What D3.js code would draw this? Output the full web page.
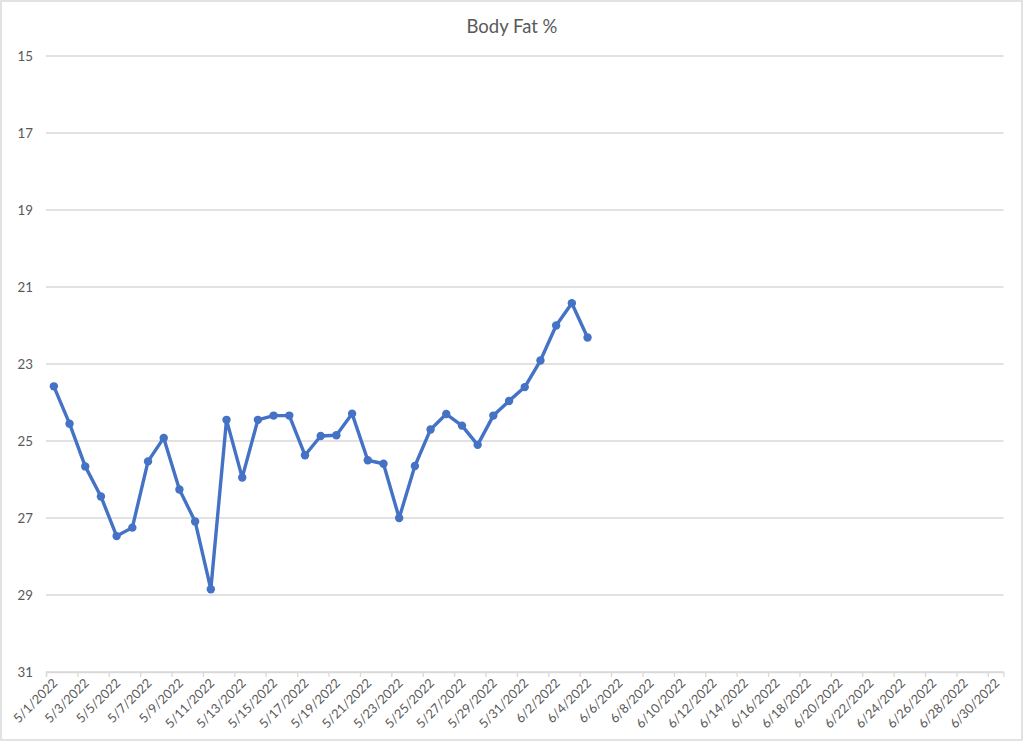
<!DOCTYPE html>
<html>
<head>
<meta charset="utf-8">
<script src="https://cdn.jsdelivr.net/npm/d3@7"></script>
<style>
  body { margin: 0; background: #fff; }
  svg { display: block; font-family: Lato, Carlito, "Liberation Sans", sans-serif; }
</style>
</head>
<body>
<svg class="chart" width="1024" height="743"></svg>
<script>
// donnees
const startDay = "2022-05-01";
const endDay = "2022-07-01";
const bodyFat = [
  23.58, 24.55, 25.66, 26.44, 27.47, 27.25, 25.53, 24.92, 26.26, 27.09,
  28.85, 24.45, 25.95, 24.45, 24.34, 24.34, 25.37, 24.87, 24.85, 24.29,
  25.50, 25.59, 27.00, 25.65, 24.70, 24.30, 24.60, 25.10, 24.34, 23.96,
  23.60, 22.91, 22.00, 21.42, 22.31
];
const yTicks = [15, 17, 19, 21, 23, 25, 27, 29, 31];
const title = "Body Fat %";

const parse = d3.timeParse("%Y-%m-%d");
const fmt = d3.timeFormat("%-m/%-d/%Y");
const t0 = parse(startDay), t1 = parse(endDay);

const svg = d3.select(".chart");

// cadre gris autour du graphique
svg.append("rect")
  .attr("x", 1).attr("y", 1)
  .attr("width", 1021).attr("height", 739)
  .attr("fill", "#fff")
  .attr("stroke", "#d9d9d9")
  .attr("stroke-width", 1.5);

const x = d3.scaleTime().domain([t0, t1]).range([46, 1003.5]);
const y = d3.scaleLinear().domain([15, 31]).range([56, 672]);

const halfDay = (x(d3.timeDay.offset(t0, 1)) - x(t0)) / 2;

// titre
svg.append("text")
  .text(title)
  .attr("x", 512)
  .attr("y", 33)
  .attr("text-anchor", "middle")
  .attr("fill", "#595959")
  .attr("font-size", 18.5);

// lignes de grille
svg.append("g").selectAll("line")
  .data(yTicks)
  .enter()
  .append("line")
  .attr("x1", x.range()[0])
  .attr("x2", x.range()[1])
  .attr("y1", d => y(d))
  .attr("y2", d => y(d))
  .attr("stroke", "#d9d9d9")
  .attr("stroke-width", 1.3);

// etiquettes de l'axe y
svg.append("g").selectAll("text")
  .data(yTicks)
  .enter()
  .append("text")
  .text(d => d)
  .attr("x", 33)
  .attr("y", d => y(d))
  .attr("dy", "0.35em")
  .attr("text-anchor", "end")
  .attr("fill", "#595959")
  .attr("font-size", 13.3);

// axe x : un trait tous les deux jours
const xTicks = d3.timeDay.range(t0, t1, 2);
const xAxis = d3.axisBottom(x)
  .tickValues(xTicks)
  .tickSize(5)
  .tickFormat(fmt);

const gx = svg.append("g")
  .attr("transform", `translate(0,${y(31)})`)
  .call(xAxis);

gx.select(".domain").attr("stroke", "#d9d9d9").attr("stroke-width", 1.3);
gx.selectAll(".tick line").attr("stroke", "#d9d9d9").attr("stroke-width", 1.3);
gx.selectAll(".tick text")
  .attr("fill", "#595959")
  .attr("font-size", 12.8)
  .attr("font-family", "Lato, Carlito, sans-serif")
  .attr("text-anchor", "end")
  .attr("y", 0)
  .attr("dy", 0)
  .attr("transform", `translate(${halfDay + 4},12) rotate(-45)`);

// la serie
const points = bodyFat.map((v, i) => ({ date: d3.timeHour.offset(d3.timeDay.offset(t0, i), 12), v: v }));

const line = d3.line()
  .x(d => x(d.date))
  .y(d => y(d.v));

svg.append("path")
  .datum(points)
  .attr("d", line)
  .attr("fill", "none")
  .attr("stroke", "#4472c4")
  .attr("stroke-width", 3.4)
  .attr("stroke-linejoin", "round")
  .attr("stroke-linecap", "round");

svg.append("g").selectAll("circle")
  .data(points)
  .enter()
  .append("circle")
  .attr("cx", d => x(d.date))
  .attr("cy", d => y(d.v))
  .attr("r", 4.2)
  .attr("fill", "#4472c4");
</script>
</body>
</html>
